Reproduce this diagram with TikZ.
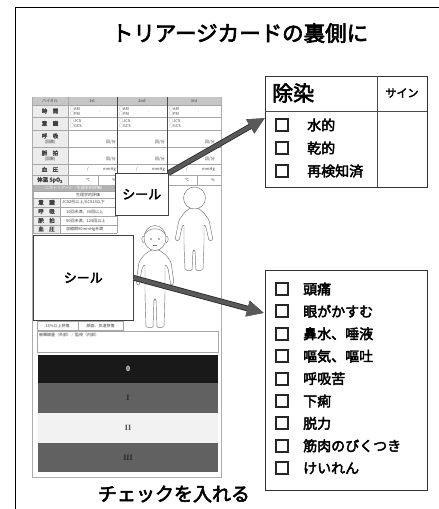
\documentclass[tikz,border=0pt]{standalone}
\usepackage{fontspec}
\setmainfont{Noto Sans CJK JP}[BoldFont={Noto Sans CJK JP},BoldFeatures={FakeBold=3}]
\newfontfamily\romanfont{Liberation Serif}
\usetikzlibrary{arrows.meta}

\begin{document}
\begin{tikzpicture}[x=1pt,y=-1pt]
\tikzset{heading/.style={font=\bfseries\fontsize{21.5}{24}\selectfont,inner sep=0pt}}
\tikzset{listbox/.style={draw=black!80,line width=1.3pt,anchor=north west,inner sep=0pt}}
\tikzset{checkbox/.style={draw=black!85,line width=2pt,minimum size=12pt,inner sep=0pt}}
\tikzset{entry/.style={font=\bfseries\fontsize{14}{16}\selectfont,anchor=west,inner sep=0pt}}
\tikzset{seal/.style={draw=black!75,fill=white,line width=0.6pt,anchor=north west,inner sep=0pt,font=\bfseries\fontsize{13}{15}\selectfont}}
\tikzset{cell/.style={draw=gray!70,line width=0.4pt}}
\tikzset{tiny/.style={font=\fontsize{4}{4}\selectfont,text=black!75,inner sep=0pt}}
\tikzset{rowlabel/.style={font=\bfseries\fontsize{5.5}{5.5}\selectfont,text=black!75,inner sep=0pt}}
\tikzset{kid/.style={draw=black!55,line width=0.45pt,fill=white,rounded corners=1.5pt}}
\tikzset{bigarrow/.style={line width=4pt,draw=gray!70!black,-{Triangle[length=17pt,width=15pt]},
  preaction={draw=black!85,line width=5.6pt,-{Triangle[length=17pt,width=15pt]}}}}

\useasboundingbox (0,0) rectangle (439,509);
\draw[line width=0.9pt] (15,509) -- (15,7) -- (439,7);

\node[heading] (title) at (240,33) {トリアージカードの裏側に};

% card: vital signs
\draw[gray!65,line width=1pt] (32,97) rectangle (221,477);
\fill[gray!45] (33,97) rectangle (221,105);
\fill[gray!15] (33,105) rectangle (68,185);
\foreach \y in {105,117,130,147,164,175,185}
  \draw[cell] (33,\y) -- (221,\y);
\draw[cell] (68,97) -- (68,185);
\draw[black!70,line width=0.7pt] (117,97) -- (117,185) (167,97) -- (167,185);
\node[tiny] at (50,101) {バイタル};
\foreach \t/\x in {1st/92,2nd/142,3rd/194}
  \node[tiny] at (\x,101) {\t};
\node[rowlabel] at (50,111) {時　間};
\node[rowlabel] at (50,123.5) {意　識};
\node[rowlabel] at (50,136) {呼　吸};
\node[tiny] at (50,142.5) {(回数)};
\node[rowlabel] at (50,153) {脈　拍};
\node[tiny] at (50,159.5) {(回数)};
\node[rowlabel] at (50,169.5) {血　圧};
\node[rowlabel] at (50,180) {体温 SpO\textsubscript{2}};
\foreach \c in {68,117,167}{
  \node[tiny,anchor=west] at (\c+2,108.5) {□AM};
  \node[tiny,anchor=west] at (\c+2,113.5) {□PM};
  \node[tiny] at (\c+32,111) {:};
  \node[tiny,anchor=west] at (\c+2,121) {□JCS};
  \node[tiny,anchor=west] at (\c+2,126) {□GCS};
  \node[tiny,anchor=east] at (\c+48,142) {回/分};
  \node[tiny,anchor=east] at (\c+48,159) {回/分};
  \node[tiny] at (\c+20,169.5) {/};
  \node[tiny,anchor=east] at (\c+48,169.5) {mmHg};
  \draw[cell] (\c+30,175) -- (\c+30,185);
  \node[tiny] at (\c+20,180) {℃};
  \node[tiny,anchor=east] at (\c+48,180) {\%};
}

% card: second triage
\fill[gray!60] (33,185) rectangle (117,191);
\node[tiny,text=white] at (75,188) {二次トリアージ（生理学的評価）};
\fill[gray!15] (33,198) rectangle (60,233);
\foreach \y in {191,198,207,216,225,233}
  \draw[cell] (33,\y) -- (117,\y);
\draw[cell] (33,185) -- (33,233) (60,198) -- (60,233) (117,185) -- (117,233);
\node[tiny] at (88,194.5) {生理学的評価};
\node[rowlabel] at (46.5,202.5) {意　識};
\node[rowlabel] at (46.5,211.5) {呼　吸};
\node[rowlabel] at (46.5,220.5) {脈　拍};
\node[rowlabel] at (46.5,229) {血　圧};
\node[tiny,anchor=west] at (62,202.5) {JCS2桁以上/GCS13以下};
\node[tiny,anchor=west] at (66,211.5) {10回未満、30回以上};
\node[tiny,anchor=west] at (66,220.5) {50回未満、120回以上};
\node[tiny,anchor=west] at (66,229) {収縮期90mmHg未満};

% body charts
\draw[kid] (190,208) -- (184,213) -- (179,220) -- (175,240) -- (179,241) -- (182,227) -- (184,224)
  -- (184,245) -- (185,270) -- (192,271) -- (193,250) -- (195,250) -- (196,271) -- (203,270)
  -- (204,245) -- (204,224) -- (206,227) -- (209,241) -- (213,240) -- (209,220) -- (204,213)
  -- (198,208) -- cycle;
\draw[kid] (194.5,198) ellipse [x radius=11pt, y radius=11pt];
\draw[kid] (151,250) -- (144,255) -- (139,262) -- (136,283) -- (139,286) -- (142,268) -- (145,264)
  -- (145,294) -- (146,327) -- (153,328) -- (154,299) -- (156,299) -- (157,328) -- (164,327)
  -- (165,294) -- (165,264) -- (168,268) -- (171,286) -- (174,283) -- (171,262) -- (166,255)
  -- (159,250) -- cycle;
\draw[kid] (155,238) ellipse [x radius=11pt, y radius=12.5pt];
\draw[black!55,line width=0.45pt] (145,234) .. controls (149,227) and (161,227) .. (165,234);
\draw[black!55,line width=0.45pt] (144,236) .. controls (141,236) and (141,242) .. (144,243)
  (166,236) .. controls (169,236) and (169,242) .. (166,243);
\fill[black!60] (151,239) circle (0.8pt) (159,239) circle (0.8pt);
\draw[black!55,line width=0.45pt] (153,245) -- (157,245);

\node[seal,minimum width=53pt,minimum height=42pt] (seal1) at (115,173) {シール};
\node[seal,minimum width=100pt,minimum height=85pt] (seal2) at (33,235) {シール};

% card: lower part
\draw[cell] (37,321) rectangle (123,330) (78,321) -- (78,330);
\node[tiny] at (57.5,325.5) {15\%以上熱傷};
\node[tiny] at (100.5,325.5) {顔面、気道熱傷};
\draw[cell] (37,331) rectangle (218,352);
\node[tiny,anchor=north west] at (39,333) {被曝線量（外部）／監視（内部）};
\foreach \f/\tc/\t/\a/\b in {black!90/white/0/355/383, black!62/black!85/I/383/413,
    gray!10/black!70/II/413/443, black!62/black!85/III/443/472}{
  \fill[\f] (38,\a) rectangle (218,\b);
  \node[font=\romanfont\bfseries\fontsize{8}{8}\selectfont,text=\tc] at (128,{(\a+\b)/2}) {\t};
}

% list boxes
\node[listbox,minimum width=162pt,minimum height=111pt] (decon) at (265,76) {};
\draw[black!70,line width=1pt] (265,111) -- (427,111) (377,76) -- (377,187);
\node[font=\bfseries\fontsize{21}{24}\selectfont,anchor=west,inner sep=0pt] (deconlabel) at (272,93) {除染};
\node[font=\bfseries\fontsize{11}{13}\selectfont,inner sep=0pt] (sign) at (402,93) {サイン};
\foreach \t [count=\i] in {水的,乾的,再検知済}{
  \node[checkbox] (dchk\i) at (281.5,102+23*\i) {};
  \node[entry] (ditem\i) at (307,102+23*\i) {\t};
}

\node[listbox,minimum width=162pt,minimum height=220pt] (symptoms) at (265,270) {};
\foreach \t [count=\i] in {頭痛,眼がかすむ,鼻水、唾液,嘔気、嘔吐,呼吸苦,下痢,脱力,筋肉のびくつき,けいれん}{
  \node[checkbox] (schk\i) at (281.5,266.6+22.4*\i) {};
  \node[entry] (sitem\i) at (303,266.6+22.4*\i) {\t};
}

\node[font=\bfseries\fontsize{19}{21}\selectfont,inner sep=0pt] (note) at (174,494) {チェックを入れる};

\coordinate (tip1) at (265,118);
\coordinate (tip2) at (264,313);
\draw[bigarrow] (seal1.north east) -- (tip1);
\draw[bigarrow] (seal2.east) -- (tip2);

\end{tikzpicture}
\end{document}
